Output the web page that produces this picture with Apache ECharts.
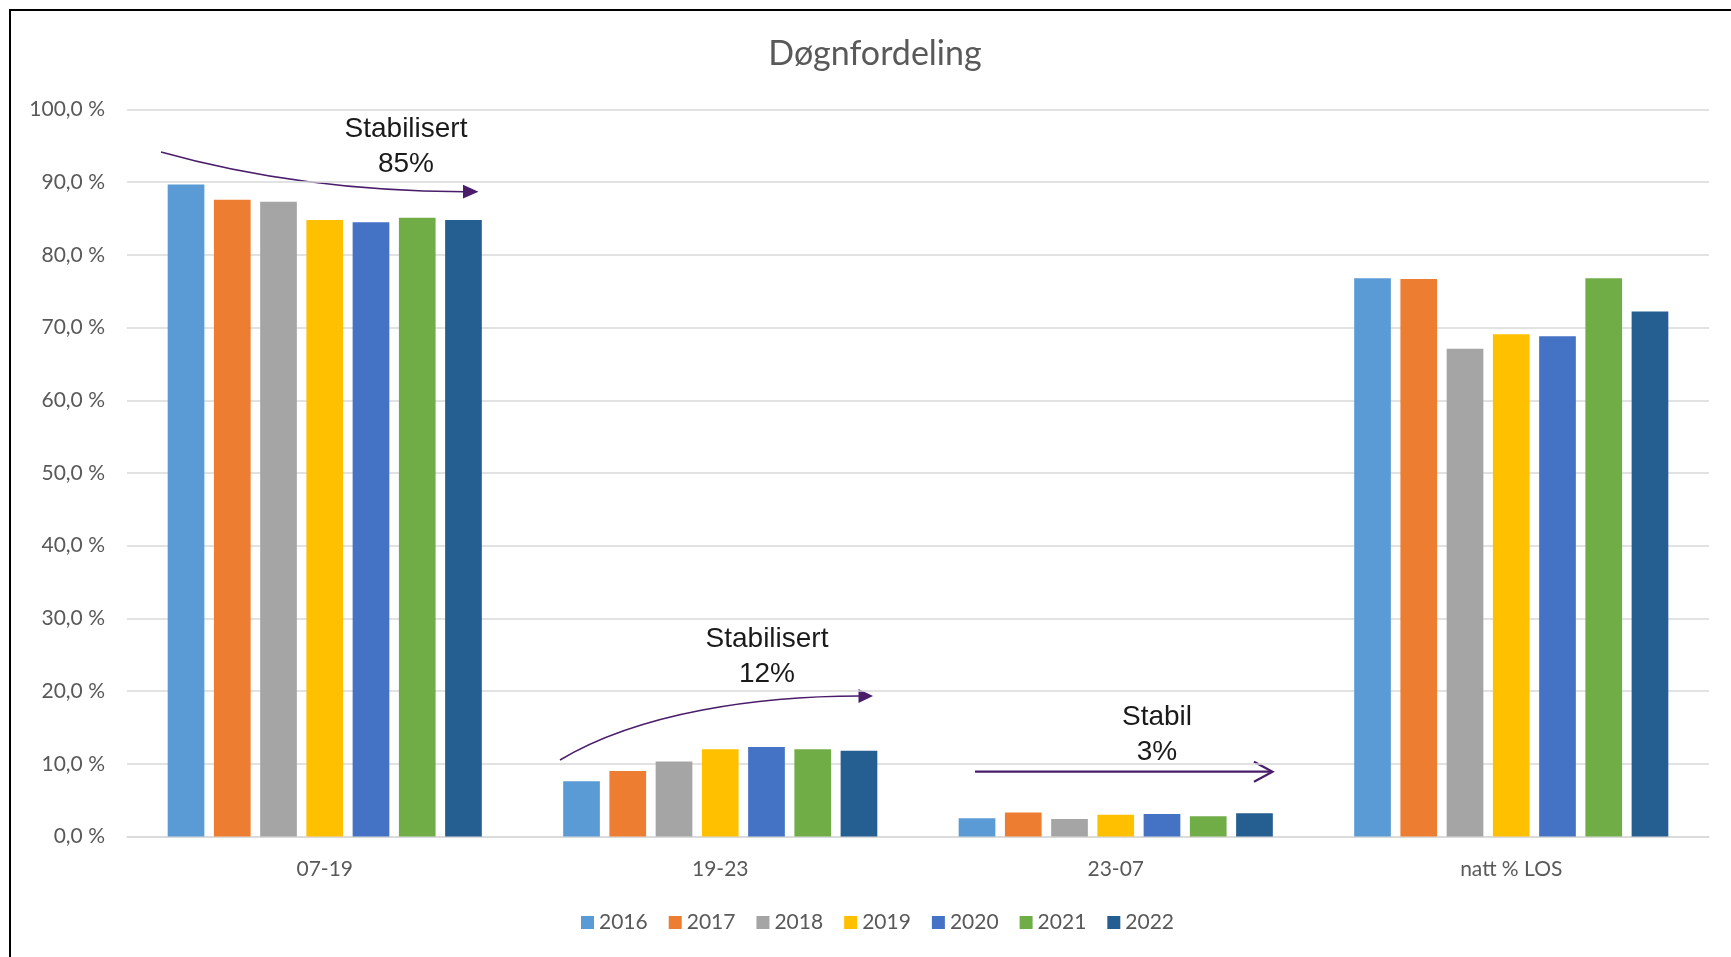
<!DOCTYPE html>
<html>
<head>
<meta charset="utf-8">
<title>Døgnfordeling</title>
<script src="https://cdn.jsdelivr.net/npm/echarts@6/dist/echarts.min.js"></script>
<style>
  html, body { margin: 0; padding: 0; background: #ffffff; }
  #chart { width: 1731px; height: 957px; }
</style>
</head>
<body>
<div id="chart"></div>
<script>
// Time-of-day distribution per year (percent)
const categories = ['07-19', '19-23', '23-07', 'natt % LOS'];
const years = ['2016', '2017', '2018', '2019', '2020', '2021', '2022'];
const v2016 = [89.7, 7.6, 2.5, 76.8];
const v2017 = [87.6, 9.0, 3.3, 76.7];
const v2018 = [87.3, 10.3, 2.4, 67.1];
const v2019 = [84.8, 12.0, 3.0, 69.1];
const v2020 = [84.5, 12.3, 3.1, 68.8];
const v2021 = [85.1, 12.0, 2.8, 76.8];
const v2022 = [84.8, 11.8, 3.2, 72.2];
const yearValues = [v2016, v2017, v2018, v2019, v2020, v2021, v2022];
const yearColors = ['#5B9BD5', '#ED7D31', '#A5A5A5', '#FFC000', '#4472C4', '#70AD47', '#255E91'];

const FONT = 'Lato, "Open Sans", sans-serif';
const NOTE_FONT = '28px "Liberation Sans", Arial, sans-serif';
const ARROW = '#4A1D6B';

const chart = echarts.init(document.getElementById('chart'), null, { renderer: 'canvas' });

const series = years.map((y, i) => ({
  name: y,
  type: 'bar',
  data: yearValues[i],
  barWidth: 36.7,
  barGap: '26%',
  itemStyle: { color: yearColors[i] }
}));

// Annotation arrows and notes
const graphic = [
  // chart frame
  { type: 'rect', shape: { x: 10, y: 10, width: 1800, height: 1000 },
    style: { fill: 'none', stroke: '#000000', lineWidth: 2 }, silent: true },
  // 07-19 note
  { type: 'bezierCurve', shape: { x1: 161, y1: 152, x2: 464, y2: 191.7, cpx1: 300, cpy1: 191 },
    style: { stroke: ARROW, lineWidth: 1.5, fill: 'none' } },
  { type: 'polygon', shape: { points: [[463, 184.8], [478.5, 191.7], [463, 198.6]] },
    style: { fill: ARROW } },
  { type: 'text', style: { text: 'Stabilisert', x: 406, y: 129, textAlign: 'center', textVerticalAlign: 'middle', font: NOTE_FONT, fill: '#1a1a1a' } },
  { type: 'text', style: { text: '85%', x: 406, y: 164, textAlign: 'center', textVerticalAlign: 'middle', font: NOTE_FONT, fill: '#1a1a1a' } },
  // 19-23 note
  { type: 'bezierCurve', shape: { x1: 560, y1: 760, x2: 860, y2: 696, cpx1: 640, cpy1: 712, cpx2: 760, cpy2: 696 },
    style: { stroke: ARROW, lineWidth: 1.5, fill: 'none' } },
  { type: 'polygon', shape: { points: [[858.5, 689], [873, 696], [858.5, 703]] },
    style: { fill: ARROW } },
  { type: 'text', style: { text: 'Stabilisert', x: 767, y: 639, textAlign: 'center', textVerticalAlign: 'middle', font: NOTE_FONT, fill: '#1a1a1a' } },
  { type: 'text', style: { text: '12%', x: 767, y: 674, textAlign: 'center', textVerticalAlign: 'middle', font: NOTE_FONT, fill: '#1a1a1a' } },
  // 23-07 note
  { type: 'line', shape: { x1: 975, y1: 771.7, x2: 1272, y2: 771.7 },
    style: { stroke: ARROW, lineWidth: 2.2 } },
  { type: 'polyline', shape: { points: [[1254, 761.7], [1272.5, 771.7], [1254, 781.7]] },
    style: { stroke: ARROW, lineWidth: 2.2, fill: 'none' } },
  { type: 'text', style: { text: 'Stabil', x: 1157, y: 717, textAlign: 'center', textVerticalAlign: 'middle', font: NOTE_FONT, fill: '#1a1a1a' } },
  { type: 'text', style: { text: '3%', x: 1157, y: 752, textAlign: 'center', textVerticalAlign: 'middle', font: NOTE_FONT, fill: '#1a1a1a' } }
];

chart.setOption({
  animation: false,
  backgroundColor: '#ffffff',
  title: {
    text: 'Døgnfordeling',
    left: 870,
    textAlign: 'center',
    top: 32,
    textStyle: { fontFamily: FONT, fontSize: 34, fontWeight: 'normal', color: '#595959' }
  },
  legend: {
    data: years,
    bottom: 19,
    left: 576,
    icon: 'rect',
    itemWidth: 13,
    itemHeight: 13,
    itemGap: 21,
    textStyle: { fontFamily: FONT, fontSize: 21, color: '#595959' }
  },
  grid: { left: 127, right: 22, top: 109.5, bottom: 120.5, containLabel: false },
  xAxis: {
    type: 'category',
    data: categories,
    axisLine: { lineStyle: { color: '#D9D9D9', width: 1.5 } },
    axisTick: { show: false },
    axisLabel: { fontFamily: FONT, fontSize: 21, color: '#595959', margin: 22 }
  },
  yAxis: {
    type: 'value',
    min: 0,
    max: 100,
    interval: 10,
    axisLine: { show: false },
    axisTick: { show: false },
    splitLine: { lineStyle: { color: '#D9D9D9', width: 1.5 } },
    axisLabel: {
      fontFamily: FONT, fontSize: 21, color: '#595959', margin: 22,
      formatter: v => v.toFixed(1).replace('.', ',') + ' %'
    }
  },
  series: series,
  graphic: graphic
});
</script>
</body>
</html>
